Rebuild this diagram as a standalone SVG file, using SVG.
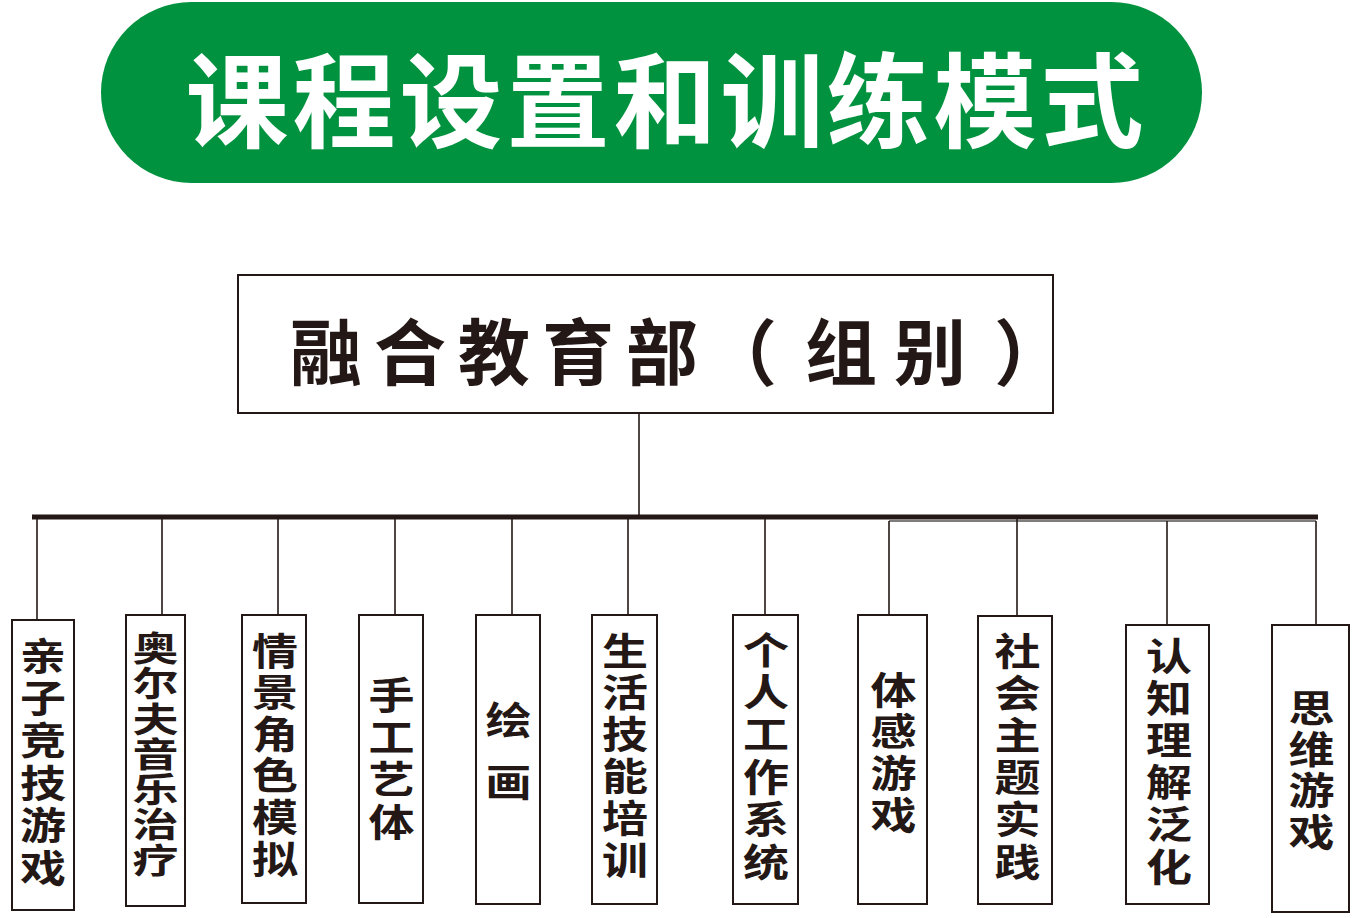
<svg xmlns="http://www.w3.org/2000/svg" width="1368" height="918" viewBox="0 0 1368 918">
<style>
.bg{fill:#ffffff}
.pill{fill:#00923f}
.title{font-family:"Noto Sans CJK SC","Noto Sans CJK JP",sans-serif;font-weight:700;font-size:103px;fill:#ffffff;text-anchor:middle;dominant-baseline:central}
.box{fill:#ffffff;stroke:#231815;stroke-width:2}
.main{font-family:"Noto Sans CJK SC","Noto Sans CJK JP",sans-serif;font-weight:700;font-size:72px;fill:#231815;text-anchor:middle;dominant-baseline:central}
.leaf{font-family:"Noto Sans CJK SC","Noto Sans CJK JP",sans-serif;font-weight:700;font-size:46px;fill:#231815;text-anchor:middle;dominant-baseline:central}
.wire{stroke:#231815;stroke-width:1.6;fill:none}
.thin{stroke:#555050;stroke-width:1.4;fill:none}
.bus{stroke:#231815;stroke-width:5;fill:none}
</style>
<rect class="bg" x="0" y="0" width="1368" height="918"/>

<g id="header">
<rect class="pill" x="101" y="2" width="1101" height="181" rx="90.5" ry="90.5"/>
<text class="title" x="237 344 451 558 665 772 878 985 1092" y="95">课程设置和训练模式</text>
</g>

<g id="connectors">
<line class="wire" x1="639" y1="413" x2="639" y2="517"/>
<line class="bus" x1="32" y1="517" x2="1318" y2="517"/>
<polyline class="thin" points="889,521 1316,521"/>
<line class="wire" x1="37" y1="517" x2="37" y2="620"/>
<line class="wire" x1="162" y1="517" x2="162" y2="615"/>
<line class="wire" x1="278" y1="517" x2="278" y2="615"/>
<line class="wire" x1="395" y1="517" x2="395" y2="615"/>
<line class="wire" x1="512" y1="517" x2="512" y2="615"/>
<line class="wire" x1="628" y1="517" x2="628" y2="615"/>
<line class="wire" x1="765" y1="517" x2="765" y2="615"/>
<line class="wire" x1="889" y1="521" x2="889" y2="615"/>
<line class="wire" x1="1017" y1="517" x2="1017" y2="616"/>
<line class="wire" x1="1167" y1="521" x2="1167" y2="625"/>
<line class="wire" x1="1316" y1="521" x2="1316" y2="625"/>
</g>

<g id="root">
<rect class="box" x="238" y="275" width="815" height="138"/>
<text class="main" x="326 410 494 578 662 741 790 841 930 980 1030" y="347">融合教育部（ 组别 ）</text>
</g>

<g id="n1">
<rect class="box" x="12" y="620" width="62" height="290"/>
<g transform="translate(43,759) scale(1,0.82)"><text class="leaf" x="0 0 0 0 0 0" y="-129.25 -77.55 -25.85 25.85 77.55 129.25">亲子竞技游戏</text></g>
</g>
<g id="n2">
<rect class="box" x="126" y="615" width="59" height="291"/>
<g transform="translate(155.5,752) scale(1,0.75)"><text class="leaf" x="0 0 0 0 0 0 0" y="-141.3 -94.2 -47.1 0 47.1 94.2 141.3">奥尔夫音乐治疗</text></g>
</g>
<g id="n3">
<rect class="box" x="242" y="615" width="64" height="288"/>
<g transform="translate(275,752) scale(1,0.82)"><text class="leaf" x="0 0 0 0 0 0" y="-126.8 -76.1 -25.4 25.4 76.1 126.8">情景角色模拟</text></g>
</g>
<g id="n4">
<rect class="box" x="359" y="615" width="64" height="288"/>
<g transform="translate(391.5,755.5) scale(1,0.82)"><text class="leaf" x="0 0 0 0" y="-77.4 -25.8 25.8 77.4">手工艺体</text></g>
</g>
<g id="n5">
<rect class="box" x="476" y="615" width="64" height="289"/>
<g transform="translate(508.5,748.5) scale(1,0.82)"><text class="leaf" x="0 0" y="-37.8 37.8">绘画</text></g>
</g>
<g id="n6">
<rect class="box" x="592" y="615" width="65" height="289"/>
<g transform="translate(625,752.5) scale(1,0.82)"><text class="leaf" x="0 0 0 0 0 0" y="-127.5 -76.5 -25.5 25.5 76.5 127.5">生活技能培训</text></g>
</g>
<g id="n7">
<rect class="box" x="733" y="615" width="65" height="289"/>
<g transform="translate(766,753) scale(1,0.82)"><text class="leaf" x="0 0 0 0 0 0" y="-129.25 -77.55 -25.85 25.85 77.55 129.25">个人工作系统</text></g>
</g>
<g id="n8">
<rect class="box" x="858" y="615" width="69" height="289"/>
<g transform="translate(893.5,749.5) scale(1,0.82)"><text class="leaf" x="0 0 0 0" y="-76.3 -25.4 25.4 76.3">体感游戏</text></g>
</g>
<g id="n9">
<rect class="box" x="978" y="616" width="74" height="288"/>
<g transform="translate(1017.5,753.5) scale(1,0.82)"><text class="leaf" x="0 0 0 0 0 0" y="-128.7 -77.2 -25.7 25.7 77.2 128.7">社会主题实践</text></g>
</g>
<g id="n10">
<rect class="box" x="1126" y="625" width="83" height="279"/>
<g transform="translate(1169,758.5) scale(1,0.82)"><text class="leaf" x="0 0 0 0 0 0" y="-128.7 -77.2 -25.7 25.7 77.2 128.7">认知理解泛化</text></g>
</g>
<g id="n11">
<rect class="box" x="1272" y="625" width="77" height="287"/>
<g transform="translate(1311.5,767) scale(1,0.82)"><text class="leaf" x="0 0 0 0" y="-75.6 -25.2 25.2 75.6">思维游戏</text></g>
</g>
</svg>
